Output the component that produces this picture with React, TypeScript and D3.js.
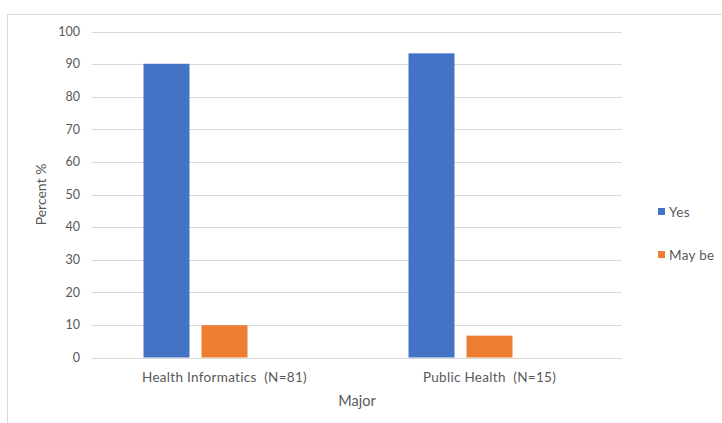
import React from "react";
import * as d3 from "d3";

const categories = ["Health Informatics  (N=81)", "Public Health  (N=15)"];
const seriesNames = ["Yes", "May be", "No"];
const yesValues = [90.1, 93.3];
const maybeValues = [9.9, 6.7];
const noValues: (number | null)[] = [null, null];
const legendSeries = ["Yes", "May be"];
const yTicks = [0, 10, 20, 30, 40, 50, 60, 70, 80, 90, 100];
const colors: Record<string, string> = { Yes: "#4472C4", "May be": "#ED7D31", No: "#A5A5A5" };

export default function App() {
  const W = 722, H = 423;
  const left = 92, right = 622, top = 31.5, bottom = 357.5;
  const x0 = d3.scaleBand<string>().domain(categories).range([left, right]).paddingInner(0).paddingOuter(0);
  const x1 = d3.scaleBand<string>().domain(seriesNames).range([0, x0.bandwidth()]).paddingInner(0.207).paddingOuter(0.888);
  const y = d3.scaleLinear().domain([0, 100]).range([bottom, top]);
  const seriesData: Record<string, (number | null)[]> = { Yes: yesValues, "May be": maybeValues, No: noValues };
  const font = "Lato, 'Open Sans', sans-serif";
  const textColor = "#595959";
  return (
    <svg width={W} height={H} style={{ position: "absolute", left: 0, top: 0, background: "#fff" }} fontFamily={font}>
      <rect x={7.5} y={14.5} width={W} height={H} fill="#fff" stroke="#D9D9D9" strokeWidth={1} />
      {yTicks.map((t) => (
        <g key={t}>
          <line x1={left} x2={right} y1={Math.round(y(t)) + 0.5} y2={Math.round(y(t)) + 0.5} stroke="#D9D9D9" strokeWidth={1} />
          <text x={80} y={y(t)} dy="0.35em" textAnchor="end" fontSize={12.5} fill={textColor}>{t}</text>
        </g>
      ))}
      {categories.map((c, i) => (
        <g key={c} transform={`translate(${x0(c)},0)`}>
          {seriesNames.map((s) => {
            const v = seriesData[s][i];
            if (v == null) return null;
            return <rect key={s} x={x1(s)} y={y(v)} width={x1.bandwidth()} height={y(0) - y(v)} fill={colors[s]} />;
          })}
          <text x={x0.bandwidth() / 2} y={382} textAnchor="middle" fontSize={13.5} letterSpacing={0.3} fill={textColor} style={{ whiteSpace: "pre" }}>{c}</text>
        </g>
      ))}
      <text x={357} y={406} textAnchor="middle" fontSize={14.5} fill={textColor}>Major</text>
      <text transform={`translate(46,${(top + bottom) / 2}) rotate(-90)`} textAnchor="middle" fontSize={14} fill={textColor}>Percent %</text>
      {legendSeries.map((s, i) => (
        <g key={s} transform={`translate(658,${212 + i * 43})`}>
          <rect x={0} y={-4} width={7} height={7} fill={colors[s]} />
          <text x={11} y={0} dy="0.35em" fontSize={13.5} letterSpacing={0.3} fill={textColor}>{s}</text>
        </g>
      ))}
    </svg>
  );
}
